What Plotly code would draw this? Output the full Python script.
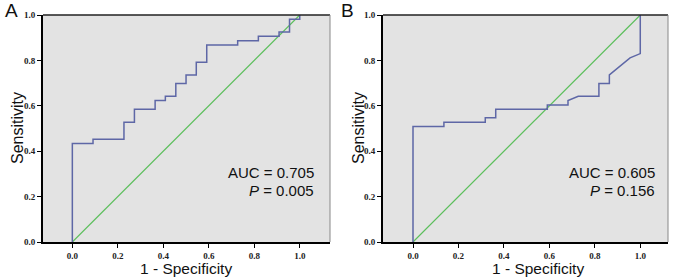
import plotly.graph_objects as go
from plotly.subplots import make_subplots

# Panel A ROC curve (1 - specificity, sensitivity)
a_fpr = [0.0, 0.0, 0.091, 0.091, 0.227, 0.227, 0.273, 0.273, 0.364, 0.364, 0.409, 0.409,
         0.455, 0.455, 0.5, 0.5, 0.545, 0.545, 0.591, 0.591, 0.727, 0.727, 0.818, 0.818,
         0.909, 0.909, 0.955, 0.955, 1.0, 1.0]
a_tpr = [0.0, 0.434, 0.434, 0.453, 0.453, 0.528, 0.528, 0.585, 0.585, 0.623, 0.623, 0.642,
         0.642, 0.698, 0.698, 0.736, 0.736, 0.792, 0.792, 0.868, 0.868, 0.887, 0.887, 0.906,
         0.906, 0.925, 0.925, 0.981, 0.981, 1.0]

# Panel B ROC curve
b_fpr = [0.0, 0.0, 0.136, 0.136, 0.318, 0.318, 0.364, 0.364, 0.591, 0.591, 0.682, 0.682,
         0.727, 0.818, 0.818, 0.864, 0.864, 0.955, 1.0, 1.0]
b_tpr = [0.0, 0.509, 0.509, 0.528, 0.528, 0.547, 0.547, 0.585, 0.585, 0.604, 0.604, 0.623,
         0.642, 0.642, 0.698, 0.698, 0.736, 0.811, 0.830, 1.0]

ref_line = [0.0, 1.0]
tick_vals = [0.0, 0.2, 0.4, 0.6, 0.8, 1.0]
tick_text = ["0.0", "0.2", "0.4", "0.6", "0.8", "1.0"]

panel_labels = ["A", "B"]
auc_text = ["AUC = 0.705", "AUC = 0.605"]
p_text = ["<i>P</i> = 0.005", "<i>P</i> = 0.156"]

W, H = 675, 280
ML, MR, MT, MB = 43, 7, 15, 38
pw = W - ML - MR
ph = H - MT - MB

def px(x):
    return (x - ML) / pw

def py(y):
    return (H - MB - y) / ph

fig = make_subplots(rows=1, cols=2)
blue = "#5e67a6"
green = "#5cbf5c"

for i, (fx, fy) in enumerate([(a_fpr, a_tpr), (b_fpr, b_tpr)], start=1):
    fig.add_trace(go.Scatter(x=ref_line, y=ref_line, mode="lines",
                             line=dict(color=green, width=1.2), showlegend=False,
                             hoverinfo="skip"), row=1, col=i)
    fig.add_trace(go.Scatter(x=fx, y=fy, mode="lines",
                             line=dict(color=blue, width=1.5), showlegend=False),
                  row=1, col=i)

axis_common = dict(showgrid=False, zeroline=False, showline=True, linecolor="black",
                   linewidth=2, ticks="outside", ticklen=4, tickcolor="black",
                   tickvals=tick_vals, ticktext=tick_text,
                   tickfont=dict(family="Liberation Serif", size=9, color="#222", weight="bold"))

fig.update_layout(
    width=W, height=H, margin=dict(l=ML, r=MR, t=MT, b=MB),
    paper_bgcolor="white", plot_bgcolor="#e3e3e3",
    font=dict(family="Liberation Sans, Arial", color="#111"),
    xaxis=dict(domain=[0, px(330)], range=[-0.129, 1.133], **axis_common),
    xaxis2=dict(domain=[px(383), 1], range=[-0.132, 1.122], **axis_common),
    yaxis=dict(range=[0, 1], **axis_common),
    yaxis2=dict(range=[0, 1], **axis_common),
)

# top and right frame lines
for xr, yr in [("x domain", "y domain"), ("x2 domain", "y2 domain")]:
    fig.add_shape(type="line", xref=xr, yref=yr, x0=0, x1=1, y0=1, y1=1,
                  line=dict(color="#222", width=1.5))
    fig.add_shape(type="line", xref=xr, yref=yr, x0=1, x1=1, y0=0, y1=1,
                  line=dict(color="#888", width=1))

ann = []
# panel labels
for lab, x in zip(panel_labels, [11, 347]):
    ann.append(dict(text=lab, x=px(x), y=py(10), xref="paper", yref="paper",
                    showarrow=False, font=dict(size=19, color="#111"),
                    xanchor="center", yanchor="middle"))
# axis titles
for x in [186, 538]:
    ann.append(dict(text="1 - Specificity", x=px(x), y=py(268), xref="paper", yref="paper",
                    showarrow=False, font=dict(size=15.5, color="#111"),
                    xanchor="center", yanchor="middle"))
for x in [17, 358]:
    ann.append(dict(text="Sensitivity", x=px(x), y=py(128), xref="paper", yref="paper",
                    showarrow=False, font=dict(size=16, color="#111"), textangle=-90,
                    xanchor="center", yanchor="middle"))
# AUC / P text
for t1, t2, xr in zip(auc_text, p_text, [316, 657]):
    ann.append(dict(text=t1, x=px(xr), y=py(172), xref="paper", yref="paper",
                    showarrow=False, font=dict(size=15, color="#111"),
                    xanchor="right", yanchor="middle"))
    ann.append(dict(text=t2, x=px(xr), y=py(190), xref="paper", yref="paper",
                    showarrow=False, font=dict(size=15, color="#111"),
                    xanchor="right", yanchor="middle"))
fig.update_layout(annotations=ann)

fig.write_html("out.html", config={"displayModeBar": False},
               post_script="document.body.style.margin='0';document.body.style.overflow='hidden';")
